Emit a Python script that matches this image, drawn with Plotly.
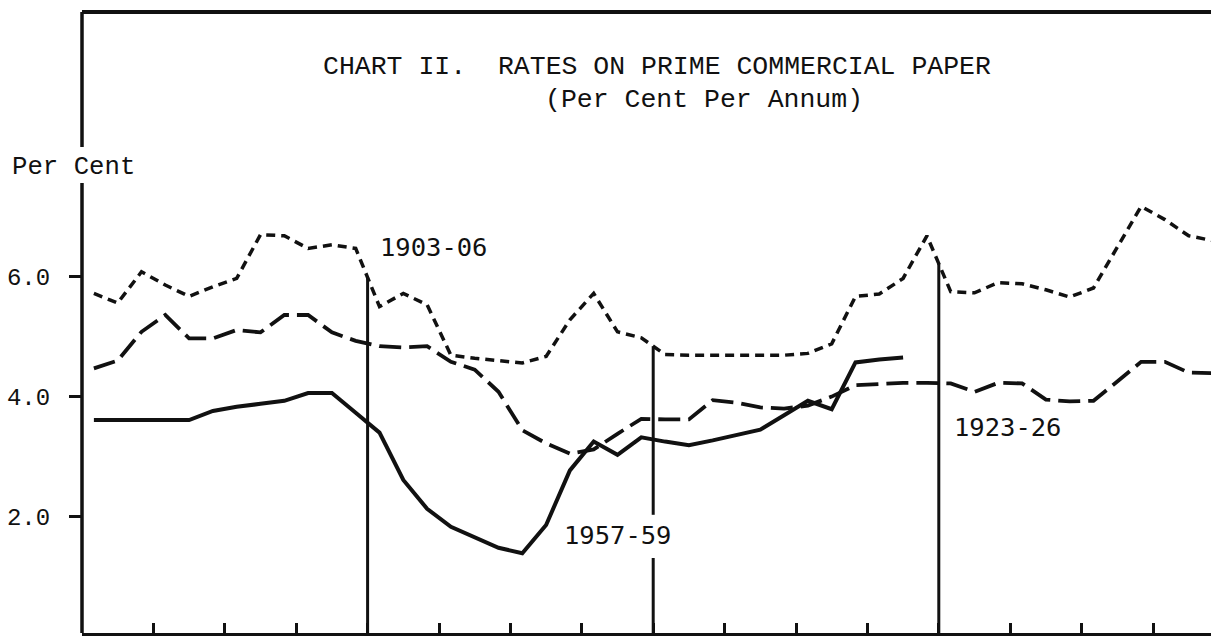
import numpy as np
import plotly.graph_objects as go

# ---------------- data ----------------
# month position (mid-month) measured from the start of each cycle segment
months = [0.5, 1.5, 2.5, 3.5, 4.5, 5.5, 6.5, 7.5, 8.5, 9.5, 10.5, 11.5,
          12.5, 13.5, 14.5, 15.5, 16.5, 17.5, 18.5, 19.5, 20.5, 21.5, 22.5, 23.5,
          24.5, 25.5, 26.5, 27.5, 28.5, 29.5, 30.5, 31.5, 32.5, 33.5, 34.5, 35.5,
          36.5, 37.5, 38.5, 39.5, 40.5, 41.5, 42.5, 43.5, 44.5, 45.5, 46.5, 47.5]

# 1903-06 (short dashed)
rate_1903_06 = [5.72, 5.56, 6.08, 5.86, 5.67, 5.83, 5.97, 6.70, 6.68, 6.47, 6.53, 6.47,
                5.50, 5.72, 5.53, 4.69, 4.64, 4.60, 4.56, 4.67, 5.28, 5.72, 5.08, 4.98,
                4.70, 4.69, 4.69, 4.69, 4.69, 4.69, 4.72, 4.88, 5.67, 5.71, 5.97, 6.68,
                5.75, 5.73, 5.90, 5.88, 5.78, 5.66, 5.81, 6.49, 7.17, 6.95, 6.68, 6.60]

# 1923-26 (long dashed)
rate_1923_26 = [4.47, 4.60, 5.08, 5.36, 4.97, 4.97, 5.11, 5.07, 5.36, 5.36, 5.07, 4.93,
                4.84, 4.82, 4.84, 4.58, 4.45, 4.08, 3.44, 3.22, 3.05, 3.12, 3.38, 3.63,
                3.62, 3.62, 3.94, 3.90, 3.82, 3.80, 3.85, 4.00, 4.19, 4.21, 4.23, 4.23,
                4.22, 4.08, 4.23, 4.22, 3.95, 3.92, 3.93, 4.25, 4.58, 4.58, 4.40, 4.39]

# 1957-59 (solid)
rate_1957_59 = [3.61, 3.61, 3.61, 3.61, 3.61, 3.76, 3.83, 3.88, 3.93, 4.06, 4.06, 3.73,
                3.40, 2.61, 2.13, 1.83, 1.65, 1.48, 1.39, 1.86, 2.77, 3.25, 3.03, 3.32,
                3.25, 3.19, 3.27, 3.36, 3.45, 3.69, 3.93, 3.79, 4.57, 4.62, 4.65]

ref_months = [12, 24, 36]
ref_labels = ["1903-06", "1957-59", "1923-26"]

y_tick_vals = [2.0, 4.0, 6.0]
y_tick_text = ["2.0", "4.0", "6.0"]
x_tick_vals = [3, 6, 9, 12, 15, 18, 21, 24, 27, 30, 33, 36, 39, 42, 45]

title_text = "CHART II.\u00a0 RATES ON PRIME COMMERCIAL PAPER"
subtitle_text = "(Per Cent Per Annum)"
y_title = "Per Cent"

# ---------------- styling / layout ----------------
W, H = 1211, 636
ML, MR, MT, MB = 82, 0, 12, 3
PX_PER_MONTH = 23.8
PX_PER_UNIT = 60.0
Y_MIN = 0.06
plot_w = W - ML - MR
plot_h = H - MT - MB
x_max = plot_w / PX_PER_MONTH
y_max = Y_MIN + plot_h / PX_PER_UNIT

MONO_SERIF = "Liberation Mono, Courier New, monospace"
MONO_SANS = "DejaVu Sans Mono, monospace"
INK = "#111111"

fig = go.Figure()

fig.add_trace(go.Scatter(
    x=months[:len(rate_1903_06)], y=rate_1903_06, mode="lines",
    line=dict(color=INK, width=3.5, dash="9px,6px"),
    hoverinfo="skip", showlegend=False))
fig.add_trace(go.Scatter(
    x=months[:len(rate_1923_26)], y=rate_1923_26, mode="lines",
    line=dict(color=INK, width=3.8, dash="22px,8px"),
    hoverinfo="skip", showlegend=False))
fig.add_trace(go.Scatter(
    x=months[:len(rate_1957_59)], y=rate_1957_59, mode="lines",
    line=dict(color=INK, width=4),
    hoverinfo="skip", showlegend=False))

# vertical reference lines up to the 1903-06 curve
label_pos = {"1903-06": (14.75, 6.49), "1957-59": (22.5, 1.69), "1923-26": (38.9, 3.50)}
for m, lab in zip(ref_months, ref_labels):
    top = float(np.interp(m, months, rate_1903_06))
    lx, ly = label_pos[lab]
    if lab == "1957-59":
        segs = [(0, ly - 0.38), (ly + 0.34, top)]
    else:
        segs = [(0, top)]
    for y0, y1 in segs:
        fig.add_shape(type="line", xref="x", yref="y", x0=m, x1=m, y0=y0, y1=y1,
                      line=dict(color=INK, width=3))
    fig.add_annotation(x=lx, y=ly, xref="x", yref="y", text=lab, showarrow=False,
                       xanchor="center", yanchor="middle",
                       font=dict(family=MONO_SANS, size=25.5, color=INK))

# frame: left axis (with gap for label) and top rule
def py_to_paper(py):
    return (H - MB - py) / plot_h

fig.add_shape(type="line", xref="paper", yref="paper", x0=0, x1=0,
              y0=0, y1=py_to_paper(183), line=dict(color=INK, width=3.5))
fig.add_shape(type="line", xref="paper", yref="paper", x0=0, x1=0,
              y0=py_to_paper(147), y1=1, line=dict(color=INK, width=3.5))
fig.add_shape(type="line", xref="paper", yref="paper", x0=0, x1=1,
              y0=1, y1=1, line=dict(color=INK, width=4))

fig.add_annotation(x=(321 - ML) / plot_w, y=py_to_paper(67), xref="paper", yref="paper",
                   text=title_text, showarrow=False, xanchor="left", yanchor="middle",
                   font=dict(family=MONO_SERIF, size=26.5, color=INK))
fig.add_annotation(x=(543 - ML) / plot_w, y=py_to_paper(100), xref="paper", yref="paper",
                   text=subtitle_text, showarrow=False, xanchor="left", yanchor="middle",
                   font=dict(family=MONO_SERIF, size=26.5, color=INK))
fig.add_annotation(x=(73 - ML) / plot_w, y=py_to_paper(167), xref="paper", yref="paper",
                   text=y_title, showarrow=False, xanchor="center", yanchor="middle",
                   font=dict(family=MONO_SERIF, size=25.7, color=INK))

fig.update_layout(
    width=W, height=H, margin=dict(l=ML, r=MR, t=MT, b=MB, pad=0),
    paper_bgcolor="white", plot_bgcolor="white", showlegend=False,
    xaxis=dict(range=[0, x_max], tickvals=x_tick_vals, ticks="inside", ticklen=10,
               tickwidth=2.5, tickcolor=INK, showticklabels=False, showline=True,
               linewidth=2.5, linecolor=INK, showgrid=False, zeroline=False, fixedrange=True),
    yaxis=dict(range=[Y_MIN, y_max], tickvals=y_tick_vals, ticktext=y_tick_text,
               ticks="outside", ticklen=12, tickwidth=3, tickcolor=INK,
               tickfont=dict(family=MONO_SERIF, size=24, color=INK),
               ticklabelstandoff=14,
               showline=False, showgrid=False, zeroline=False, fixedrange=True),
)

fig.write_html("out.html", config={"displayModeBar": False},
               post_script="document.body.style.margin='0';document.body.style.overflow='hidden';")
